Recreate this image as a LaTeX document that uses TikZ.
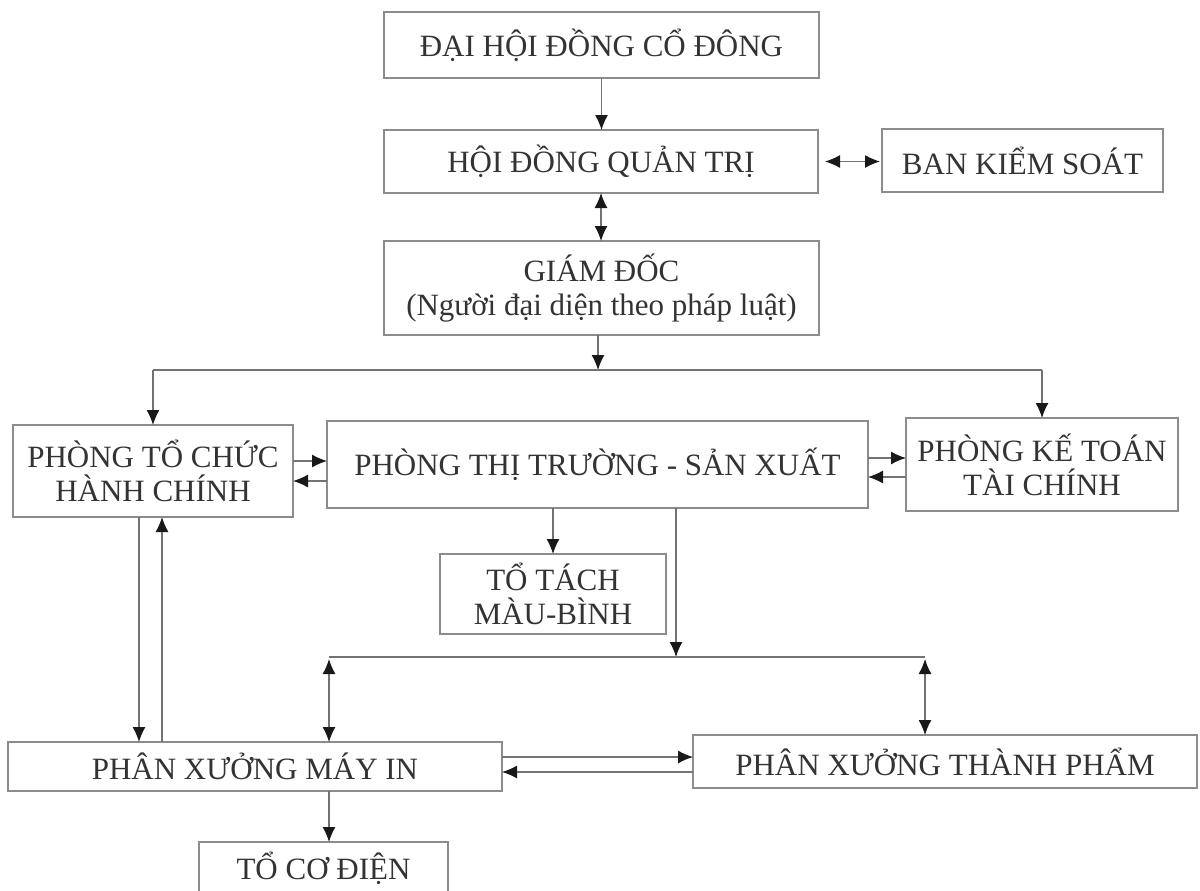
\documentclass[tikz,border=0pt]{standalone}
\usepackage{fontspec}
\setmainfont{Liberation Serif}
\usepackage{tikz}
\usetikzlibrary{arrows.meta}
\tikzset{
Hop/.style={
 draw=black!45, 
 line width=1.2pt, 
 rectangle, 
 inner sep=0pt, 
 outer sep=0pt, 
 text=black!80, 
 align=center, 
 font=\fontsize{31}{34}\selectfont
 },
Duong/.style={
 draw=black!55, 
 line width=1.2pt
 },
Fleche/.style={
 Duong, 
 -{Latex[length=15pt,width=13pt,color=black!90]}
 },
DoubleFleche/.style={
 Duong, 
 {Latex[length=15pt,width=13pt,color=black!90]}-{Latex[length=15pt,width=13pt,color=black!90]}
 }
}

\begin{document}
\begin{tikzpicture}[x=1pt,y=-1pt]
\useasboundingbox (0,0) rectangle (1200,891);
% cac o
\node[Hop,minimum width=435pt,minimum height=66pt] (dhdcd) at (601.5,45) {ĐẠI HỘI ĐỒNG CỔ ĐÔNG};
\node[Hop,minimum width=434pt,minimum height=63pt] (hdqt) at (601,161.5) {HỘI ĐỒNG QUẢN TRỊ};
\node[Hop,minimum width=281pt,minimum height=63pt] (bks) at (1022.5,160.5) {BAN KIỂM SOÁT};
\node[Hop,minimum width=435pt,minimum height=94pt] (gd) at (601.5,288) {GIÁM ĐỐC\\(Người đại diện theo pháp luật)};
\node[Hop,minimum width=280pt,minimum height=92pt] (ptc) at (153,471) {PHÒNG TỔ CHỨC\\HÀNH CHÍNH};
\node[Hop,minimum width=541pt,minimum height=87pt] (ptt) at (597.5,464.5) {PHÒNG THỊ TRƯỜNG - SẢN XUẤT};
\node[Hop,minimum width=272pt,minimum height=93pt] (pkt) at (1042,464.5) {PHÒNG KẾ TOÁN\\TÀI CHÍNH};
\node[Hop,minimum width=226pt,minimum height=80pt] (ttm) at (553,594) {TỔ TÁCH\\MÀU-BÌNH};
\node[Hop,minimum width=494pt,minimum height=49pt] (pxmi) at (255,766.5) {PHÂN XƯỞNG MÁY IN};
\node[Hop,minimum width=504pt,minimum height=53pt] (pxtp) at (945,761.5) {PHÂN XƯỞNG THÀNH PHẨM};
\node[Hop,minimum width=249pt,minimum height=52pt] (tcd) at (323.5,868) {TỔ CƠ ĐIỆN};
% diem re nhanh
\coordinate (chia1) at (598,370);
\coordinate (chia2) at (676,657);
\coordinate (trai) at (329,657);
\coordinate (phai) at (925,657);
\coordinate (tc1) at ([yshift=10pt]ptc.east);
\coordinate (tc2) at ([yshift=-10pt]ptc.east);
\coordinate (tt1) at ([yshift=6.5pt]ptt.east);
\coordinate (tt2) at ([yshift=-12.5pt]ptt.east);
\coordinate (xu1) at ([xshift=-14pt]ptc.south);
\coordinate (xu2) at ([xshift=9pt]ptc.south);
\coordinate (mi1) at ([yshift=9.5pt]pxmi.east);
\coordinate (mi2) at ([yshift=-5.5pt]pxmi.east);
% cac mui ten
\draw[Fleche] (dhdcd.south) -- (dhdcd.south |- hdqt.north);
\draw[DoubleFleche,shorten <=7pt,shorten >=2pt] (hdqt.east) -- (hdqt.east -| bks.west);
\draw[DoubleFleche] (hdqt.south) -- (hdqt.south |- gd.north);
\draw[Fleche] (chia1 |- gd.south) -- (chia1);
\draw[Duong] (chia1 -| ptc.north) -- (chia1 -| pkt.north);
\draw[Fleche] (chia1 -| ptc.north) -- (ptc.north);
\draw[Fleche] (chia1 -| pkt.north) -- (pkt.north);
\draw[Fleche] (tc1) -- (tc1 -| ptt.west);
\draw[Fleche] (tc2 -| ptt.west) -- (tc2);
\draw[Fleche] (tt1) -- (tt1 -| pkt.west);
\draw[Fleche] (tt2 -| pkt.west) -- (tt2);
\draw[Fleche] (ttm.north |- ptt.south) -- (ttm.north);
\draw[Fleche] (chia2 |- ptt.south) -- (chia2);
\draw[Duong] (trai) -- (phai);
\draw[DoubleFleche,shorten <=2pt] (trai) -- (trai |- pxmi.north);
\draw[DoubleFleche,shorten <=2pt] (phai) -- (phai |- pxtp.north);
\draw[Fleche] (xu1) -- (xu1 |- pxmi.north);
\draw[Fleche] (xu2 |- pxmi.north) -- (xu2);
\draw[Fleche] (mi1) -- (mi1 -| pxtp.west);
\draw[Fleche] (mi2 -| pxtp.west) -- (mi2);
\draw[Fleche] (trai |- pxmi.south) -- (trai |- tcd.north);
\end{tikzpicture}
\end{document}
